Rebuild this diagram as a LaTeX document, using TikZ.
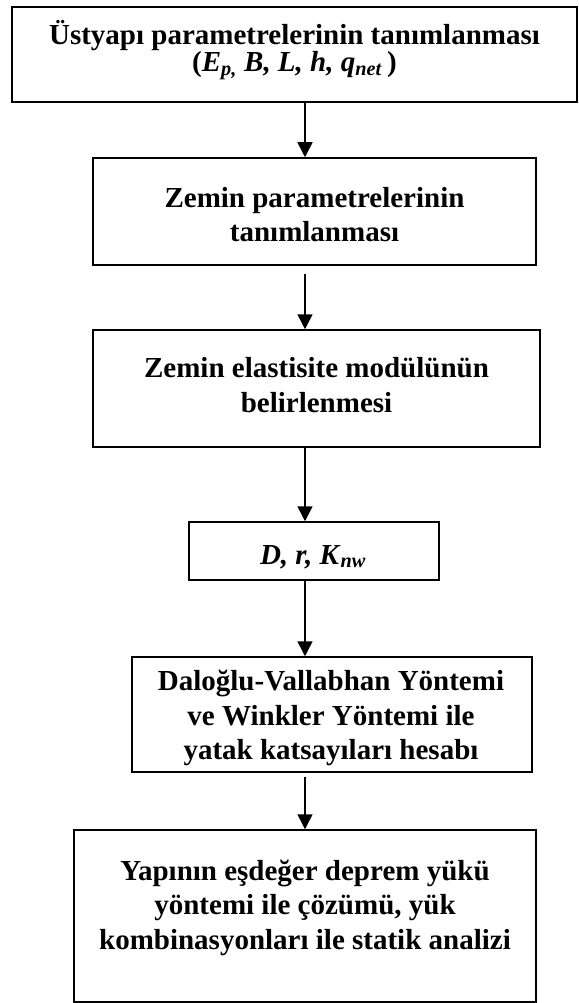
\documentclass[tikz,border=0pt]{standalone}
\usepackage{fontspec}
\setmainfont{Liberation Serif}
\usetikzlibrary{arrows.meta}
\begin{document}
\begin{tikzpicture}[x=1pt,y=-1pt,
  box/.style={draw, line width=1.5pt, inner sep=0pt},
  txt/.style={font=\bfseries\fontsize{29}{34.5}\selectfont, align=center, inner sep=0pt},
  arr/.style={line width=1.5pt, -{Triangle[width=15pt,length=15pt]}}]
\useasboundingbox (0,0) rectangle (578,1003);
\coordinate (spine) at (305,0);
% boxes
\node[box, minimum width=565pt, minimum height=95pt]  (b1) at (294.5,54.5) {};
\node[box, minimum width=443pt, minimum height=107pt] (b2) at (314.5,211.5) {};
\node[box, minimum width=447pt, minimum height=117pt] (b3) at (316.5,388.5) {};
\node[box, minimum width=250pt, minimum height=58pt]  (b4) at (314,551) {};
\node[box, minimum width=400pt, minimum height=115pt] (b5) at (332,714.5) {};
\node[box, minimum width=462pt, minimum height=172pt] (b6) at (305,916) {};
% texts
\node[txt] (t1) at (294.5,50) {Üstyapı parametrelerinin tanımlanması\\[-7pt]
  (\textit{E}\textsubscript{\textit{p,}} \textit{B, L, h, q}\textsubscript{\textit{net}}\,)};
\node[txt] (t2) at (314.5,214.5) {Zemin parametrelerinin\\tanımlanması};
\node[txt] (t3) at (316.5,385) {Zemin elastisite modülünün\\belirlenmesi};
\node[txt] (t4) at (313,557) {\textit{D, r, K}\textsubscript{\textit{nw}}};
\begin{scope}
  \clip (b5.north west) rectangle (b5.south east);
  \node[txt] (t5) at (331,718) {Daloğlu-Vallabhan Yöntemi\\ve Winkler Yöntemi ile\\yatak katsayıları hesabı};
\end{scope}
\node[txt] (t6) at (305,907.5) {Yapının eşdeğer deprem yükü\\yöntemi ile çözümü, yük\\kombinasyonları ile statik analizi};
% arrows
\draw[arr] (b1.south -| spine) -- (b2.north -| spine);
\draw[arr, shorten <=8pt] (b2.south -| spine) -- (b3.north -| spine);
\draw[arr] (b3.south -| spine) -- (b4.north -| spine);
\draw[arr] (b4.south -| spine) -- (b5.north -| spine);
\draw[arr, shorten <=4pt] (b5.south -| spine) -- (b6.north -| spine);
\end{tikzpicture}
\end{document}
